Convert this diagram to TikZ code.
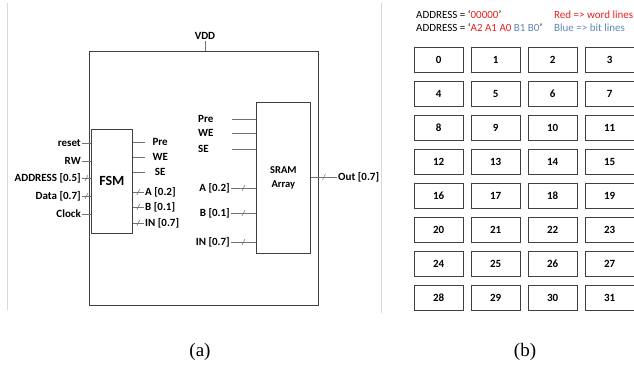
\documentclass[tikz,border=0pt]{standalone}
\usepackage{fontspec}
\setmainfont{Carlito}
\newfontfamily\capfont{Liberation Serif}
\usetikzlibrary{positioning, decorations.markings}
\definecolor{wordred}{RGB}{232,32,32}
\definecolor{bitblue}{RGB}{95,135,185}

\begin{document}
\begin{tikzpicture}[
    x=1pt, y=-1pt,
    box/.style={draw=black!75, line width=0.8pt, inner sep=0pt},
    lbl/.style={font=\fontsize{11}{13}\selectfont\bfseries, inner sep=1pt},
    hdr/.style={font=\fontsize{11}{12}\selectfont, inner sep=1pt},
    wire/.style={draw=black!55, line width=0.6pt},
    bus/.style={wire, postaction={decorate, decoration={markings,
        mark=at position 0.5 with {\draw[black!55, line width=0.5pt] (-1.5pt,-3pt) -- (1.5pt,3pt);}}}},
    cell/.style={box, minimum width=48.5pt, minimum height=25pt, font=\fontsize{11}{13}\selectfont\bfseries},
    sep/.style={draw=black!15, line width=0.8pt}
]
\useasboundingbox (0,0) rectangle (634,367);

% panel frames
\draw[sep] (7,3) -- (7,310);
\draw[sep] (381,3) -- (381,313);

% (a) chip
\node[box, anchor=north west, minimum width=229pt, minimum height=254pt] (chip) at (89,51) {};
\node[lbl] (vdd) at (205,36) {VDD};
\draw[wire] (vdd.south) -- (vdd.south |- chip.north);

\node[box, anchor=north west, minimum width=41pt, minimum height=104pt,
      font=\fontsize{14}{16}\selectfont\bfseries] (fsm) at (91,129) {FSM};
\node[box, anchor=north west, minimum width=54pt, minimum height=151pt, align=center,
      font=\fontsize{10.5}{14}\selectfont\bfseries] (sram) at (256,102) {SRAM\\Array};

% FSM inputs
\foreach \y/\t/\s in {143/reset/wire, 161/RW/wire, 178/ADDRESS [0.5]/bus, 196/Data [0.7]/bus, 214/Clock/wire} {
  \node[lbl, anchor=east] (fin\y) at (82,\y) {\t};
  \draw[\s] (fin\y.east) -- (fin\y.east -| fsm.west);
}

% FSM outputs
\foreach \y/\t in {142/Pre, 157/WE, 172/SE} {
  \node[lbl, anchor=west, minimum width=30pt] (fout\y) at (145,\y) {\t};
  \draw[wire] (fout\y.west -| fsm.east) -- (fout\y.west);
}
\foreach \y/\t in {192/A [0.2], 207/B [0.1], 223/IN [0.7]} {
  \node[lbl, anchor=west] (fout\y) at (144,\y) {\t};
  \draw[bus] (fout\y.west -| fsm.east) -- (fout\y.west);
}

% SRAM inputs
\foreach \y/\t in {119/Pre, 133/WE, 149/SE} {
  \node[lbl, anchor=west, text width=33pt, align=left] (sin\y) at (197,\y) {\t};
  \draw[wire] (sin\y.east) -- (sin\y.east -| sram.west);
}
\foreach \y/\t in {188/A [0.2], 213/B [0.1], 242/IN [0.7]} {
  \node[lbl, anchor=east] (sin\y) at (231,\y) {\t};
  \draw[bus] (sin\y.east) -- (sin\y.east -| sram.west);
}

% SRAM output
\node[lbl, anchor=west] (out) at (337,177) {Out [0.7]};
\draw[bus] (out.west -| sram.east) -- (out.west);

% (b) address map
\node[hdr, anchor=west] (addr1) at (415,15) {ADDRESS = `\textcolor{wordred}{00000}'};
\node[hdr, anchor=west] (addr2) at (415,28) {ADDRESS = `\textcolor{wordred}{A2 A1 A0} \textcolor{bitblue}{B1 B0}'};
\node[hdr, anchor=west, text=wordred] (key1) at (553,15) {Red => word lines};
\node[hdr, anchor=west, text=bitblue] (key2) at (553,28) {Blue => bit lines};

\foreach \r in {0,...,7} {
  \foreach \c in {0,...,3} {
    \pgfmathtruncatemacro\n{4*\r+\c}
    \node[cell, anchor=north west] (cell\n) at (414+57*\c, 47+34*\r) {\n};
  }
}

% captions
\node[font=\capfont\fontsize{19}{21}\selectfont] (capa) at (200,352) {(a)};
\node[font=\capfont\fontsize{19}{21}\selectfont] (capb) at (525,352) {(b)};
\end{tikzpicture}
\end{document}
